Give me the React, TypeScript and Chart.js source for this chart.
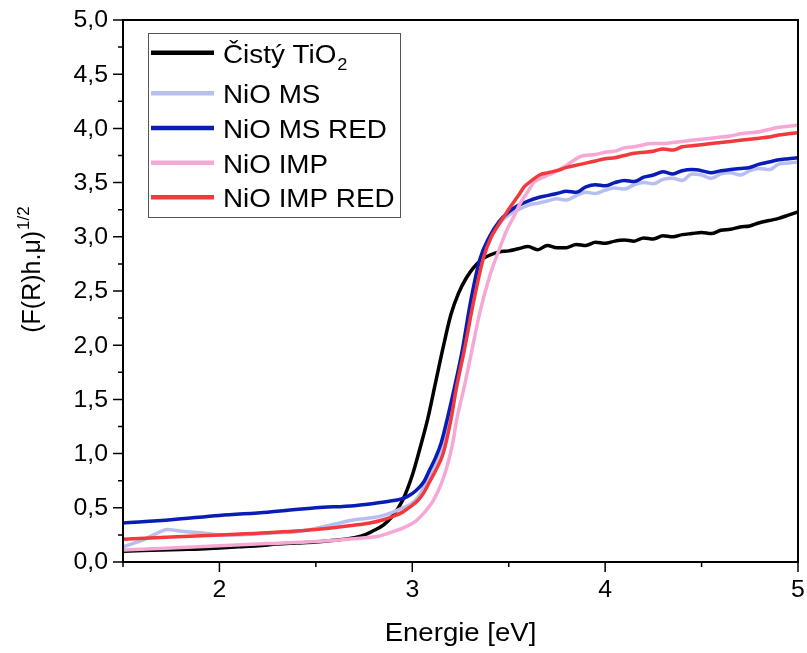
import React, { useEffect, useRef } from "react";
import { Chart, registerables } from "chart.js";

Chart.register(...registerables);

const FONT = '"Liberation Sans", Arial, sans-serif';

// ---- data ----
const blackE = [1.5, 1.6, 1.7, 1.8, 1.9, 2.0, 2.1, 2.2, 2.3, 2.4, 2.5, 2.6, 2.7, 2.76, 2.8, 2.85, 2.9, 2.95, 3.0, 3.04, 3.08, 3.12, 3.16, 3.2, 3.24, 3.28, 3.32, 3.36, 3.4, 3.45, 3.5, 3.55, 3.6, 3.65, 3.7, 3.75, 3.8, 3.85, 3.9, 3.95, 4.0, 4.05, 4.1, 4.15, 4.2, 4.25, 4.3, 4.35, 4.4, 4.45, 4.5, 4.55, 4.6, 4.65, 4.7, 4.75, 4.8, 4.85, 4.9, 4.95, 5.0];
const blackV = [0.10, 0.105, 0.11, 0.115, 0.12, 0.13, 0.14, 0.15, 0.165, 0.175, 0.185, 0.20, 0.225, 0.255, 0.29, 0.34, 0.43, 0.57, 0.80, 1.05, 1.32, 1.65, 1.98, 2.28, 2.48, 2.62, 2.72, 2.79, 2.83, 2.86, 2.87, 2.89, 2.91, 2.88, 2.92, 2.90, 2.90, 2.93, 2.92, 2.95, 2.94, 2.96, 2.97, 2.96, 2.99, 2.98, 3.01, 3.00, 3.02, 3.03, 3.04, 3.03, 3.06, 3.07, 3.09, 3.10, 3.13, 3.15, 3.17, 3.20, 3.23];

const msE = [1.5, 1.55, 1.6, 1.67, 1.73, 1.78, 1.83, 1.9, 1.95, 2.0, 2.1, 2.2, 2.3, 2.4, 2.5, 2.6, 2.7, 2.8, 2.85, 2.9, 2.95, 2.99, 3.03, 3.06, 3.1, 3.14, 3.19, 3.23, 3.27, 3.31, 3.35, 3.4, 3.45, 3.5, 3.55, 3.6, 3.65, 3.7, 3.75, 3.8, 3.85, 3.9, 3.95, 4.0, 4.05, 4.1, 4.15, 4.2, 4.25, 4.3, 4.35, 4.4, 4.45, 4.5, 4.55, 4.6, 4.65, 4.7, 4.75, 4.8, 4.85, 4.9, 4.95, 5.0];
const msV = [0.14, 0.17, 0.20, 0.26, 0.30, 0.29, 0.28, 0.27, 0.26, 0.25, 0.25, 0.26, 0.27, 0.28, 0.31, 0.35, 0.39, 0.41, 0.43, 0.46, 0.50, 0.53, 0.60, 0.69, 0.84, 1.0, 1.31, 1.62, 1.96, 2.36, 2.75, 2.98, 3.12, 3.20, 3.25, 3.29, 3.31, 3.33, 3.35, 3.34, 3.38, 3.41, 3.40, 3.43, 3.45, 3.44, 3.48, 3.50, 3.49, 3.53, 3.54, 3.52, 3.58, 3.57, 3.54, 3.58, 3.59, 3.57, 3.61, 3.63, 3.62, 3.67, 3.68, 3.69];

const msRedE = [1.5, 1.75, 2.0, 2.25, 2.5, 2.7, 2.8, 2.88, 2.94, 2.98, 3.02, 3.06, 3.09, 3.12, 3.15, 3.18, 3.22, 3.26, 3.3, 3.35, 3.4, 3.45, 3.5, 3.55, 3.6, 3.65, 3.7, 3.75, 3.8, 3.85, 3.9, 3.95, 4.0, 4.05, 4.1, 4.15, 4.2, 4.25, 4.3, 4.35, 4.4, 4.45, 4.5, 4.55, 4.6, 4.65, 4.7, 4.75, 4.8, 4.85, 4.9, 4.95, 5.0];
const msRedV = [0.36, 0.39, 0.43, 0.46, 0.50, 0.52, 0.54, 0.56, 0.58, 0.61, 0.66, 0.74, 0.85, 0.96, 1.10, 1.31, 1.62, 1.96, 2.38, 2.79, 3.0, 3.14, 3.23, 3.29, 3.33, 3.36, 3.38, 3.40, 3.42, 3.41, 3.46, 3.48, 3.47, 3.50, 3.52, 3.51, 3.55, 3.57, 3.60, 3.58, 3.61, 3.62, 3.61, 3.59, 3.61, 3.62, 3.63, 3.64, 3.67, 3.69, 3.71, 3.72, 3.73];

const impE = [1.5, 1.75, 2.0, 2.25, 2.5, 2.73, 2.83, 2.9, 2.96, 3.02, 3.06, 3.11, 3.15, 3.18, 3.21, 3.23, 3.27, 3.31, 3.35, 3.4, 3.45, 3.49, 3.53, 3.56, 3.6, 3.63, 3.68, 3.73, 3.8, 3.87, 3.95, 4.0, 4.05, 4.1, 4.15, 4.2, 4.25, 4.3, 4.35, 4.4, 4.45, 4.5, 4.55, 4.6, 4.65, 4.7, 4.75, 4.8, 4.85, 4.9, 4.95, 5.0];
const impV = [0.11, 0.13, 0.15, 0.17, 0.19, 0.22, 0.24, 0.28, 0.32, 0.38, 0.45, 0.57, 0.72, 0.88, 1.1, 1.31, 1.62, 1.96, 2.30, 2.63, 2.88, 3.06, 3.20, 3.31, 3.42, 3.50, 3.55, 3.59, 3.66, 3.74, 3.76, 3.78, 3.79, 3.82, 3.83, 3.85, 3.86, 3.86, 3.87, 3.88, 3.89, 3.90, 3.91, 3.92, 3.93, 3.95, 3.96, 3.97, 3.99, 4.01, 4.02, 4.03];

const impRedE = [1.5, 1.75, 2.0, 2.25, 2.5, 2.65, 2.78, 2.85, 2.9, 2.95, 2.99, 3.03, 3.06, 3.09, 3.12, 3.16, 3.2, 3.23, 3.27, 3.32, 3.37, 3.41, 3.44, 3.48, 3.51, 3.55, 3.58, 3.62, 3.66, 3.7, 3.75, 3.8, 3.85, 3.9, 3.95, 4.0, 4.05, 4.1, 4.15, 4.2, 4.25, 4.3, 4.35, 4.4, 4.45, 4.5, 4.55, 4.6, 4.65, 4.7, 4.75, 4.8, 4.85, 4.9, 4.95, 5.0];
const impRedV = [0.21, 0.23, 0.25, 0.27, 0.30, 0.33, 0.36, 0.39, 0.42, 0.46, 0.51, 0.57, 0.64, 0.74, 0.84, 1.0, 1.31, 1.62, 1.96, 2.42, 2.81, 3.0, 3.09, 3.20, 3.28, 3.38, 3.46, 3.52, 3.57, 3.59, 3.61, 3.64, 3.66, 3.68, 3.70, 3.72, 3.73, 3.75, 3.77, 3.78, 3.79, 3.81, 3.80, 3.83, 3.84, 3.85, 3.86, 3.87, 3.88, 3.89, 3.90, 3.91, 3.92, 3.94, 3.95, 3.96];

const seriesLabels = ["Čistý TiO", "NiO MS", "NiO MS RED", "NiO IMP", "NiO IMP RED"];
const seriesColors = ["#000000", "#b7bff1", "#0a1cb6", "#f5a8d3", "#f23a3c"];
const seriesWidths = [3.5, 3.5, 3.5, 3.5, 3.5];

const xTitle = "Energie [eV]";
const yTitleMain = "(F(R)h.μ)";
const yTitleSup = "1/2";

const xMin = 1.5, xMax = 5, xStep = 0.5;
const yMin = 0, yMax = 5, yStep = 0.5;

function pts(xs: number[], ys: number[]) {
  return xs.map((x, i) => ({ x, y: ys[i] }));
}

const isInt = (v: number) => Math.abs(v - Math.round(v)) < 1e-6;

// draw text horizontally stretched by sx, anchored at (x, y)
function stretchText(ctx: CanvasRenderingContext2D, text: string, x: number, y: number, sx: number) {
  ctx.save();
  ctx.translate(x, y);
  ctx.scale(sx, 1);
  ctx.fillText(text, 0, 0);
  ctx.restore();
}

const decorPlugin = {
  id: "decor",
  afterDraw(chart: any) {
    const { ctx, chartArea: a, scales } = chart;
    const x = scales.x, y = scales.y;
    ctx.save();
    ctx.strokeStyle = "#000";
    ctx.lineWidth = 1.5;
    ctx.beginPath();
    for (const t of x.ticks) {
      const px = x.getPixelForValue(t.value);
      ctx.moveTo(px, a.bottom);
      ctx.lineTo(px, a.bottom + (isInt(t.value) ? 10 : 5));
    }
    for (const t of y.ticks) {
      const py = y.getPixelForValue(t.value);
      ctx.moveTo(a.left, py);
      ctx.lineTo(a.left - 10, py);
      if (t.value + yStep / 2 < yMax) {
        const pm = y.getPixelForValue(t.value + yStep / 2);
        ctx.moveTo(a.left, pm);
        ctx.lineTo(a.left - 5, pm);
      }
    }
    ctx.stroke();
    ctx.lineWidth = 2;
    ctx.strokeRect(a.left, a.top, a.right - a.left, a.bottom - a.top);

    // tick labels
    ctx.fillStyle = "#000";
    ctx.font = `23px ${FONT}`;
    ctx.textAlign = "center";
    ctx.textBaseline = "middle";
    for (const t of x.ticks) {
      if (!isInt(t.value)) continue;
      stretchText(ctx, String(Math.round(t.value)), x.getPixelForValue(t.value), a.bottom + 29, 1.08);
    }
    ctx.textAlign = "right";
    for (const t of y.ticks) {
      stretchText(ctx, Number(t.value).toFixed(1).replace(".", ","), a.left - 15, y.getPixelForValue(t.value) + 1, 1.08);
    }

    // x title
    ctx.font = `26px ${FONT}`;
    ctx.textAlign = "center";
    ctx.textBaseline = "alphabetic";
    stretchText(ctx, xTitle, (a.left + a.right) / 2, 641, 1.06);

    // y title
    ctx.save();
    ctx.translate(40, 270);
    ctx.rotate(-Math.PI / 2);
    ctx.font = `25px ${FONT}`;
    const wMain = ctx.measureText(yTitleMain).width;
    ctx.font = `17px ${FONT}`;
    const wSup = ctx.measureText(yTitleSup).width;
    const start = -(wMain + wSup) / 2;
    ctx.textAlign = "left";
    ctx.font = `25px ${FONT}`;
    ctx.fillText(yTitleMain, start, 0);
    ctx.font = `17px ${FONT}`;
    ctx.fillText(yTitleSup, start + wMain + 1, -11);
    ctx.restore();

    // legend
    const bx = 148, by = 33, bw = 252, bh = 184;
    ctx.fillStyle = "#fff";
    ctx.fillRect(bx, by, bw, bh);
    ctx.strokeStyle = "#555";
    ctx.lineWidth = 1;
    ctx.strokeRect(bx + 0.5, by + 0.5, bw, bh);
    const rows = [52.7, 93.3, 128, 162.7, 197.3];
    ctx.textAlign = "left";
    const lsx = 1.07;
    for (let i = 0; i < seriesLabels.length; i++) {
      const ry = rows[i];
      ctx.strokeStyle = seriesColors[i];
      ctx.lineWidth = 4.5;
      ctx.beginPath();
      ctx.moveTo(151, ry);
      ctx.lineTo(214, ry);
      ctx.stroke();
      ctx.fillStyle = "#000";
      ctx.font = `26px ${FONT}`;
      stretchText(ctx, seriesLabels[i], 223, ry + 10, lsx);
      if (i === 0) {
        const w = ctx.measureText(seriesLabels[i]).width * lsx;
        ctx.font = `17px ${FONT}`;
        stretchText(ctx, "2", 223 + w + 1, ry + 17, lsx);
      }
    }
    ctx.restore();
  },
};

export default function App() {
  const ref = useRef<HTMLCanvasElement | null>(null);
  useEffect(() => {
    if (!ref.current) return;
    const datasets = [
      pts(blackE, blackV),
      pts(msE, msV),
      pts(msRedE, msRedV),
      pts(impE, impV),
      pts(impRedE, impRedV),
    ].map((data, i) => ({
      label: seriesLabels[i],
      data,
      borderColor: seriesColors[i],
      backgroundColor: seriesColors[i],
      borderWidth: seriesWidths[i],
      pointRadius: 0,
      cubicInterpolationMode: "monotone" as const,
      fill: false,
      order: 5 - i,
    }));
    const chart = new Chart(ref.current, {
      type: "line",
      data: { datasets },
      plugins: [decorPlugin],
      options: {
        animation: false,
        responsive: true,
        maintainAspectRatio: false,
        layout: { padding: { top: 20, right: 9, left: 0, bottom: 0 } },
        plugins: { legend: { display: false }, tooltip: { enabled: false } },
        scales: {
          x: {
            type: "linear",
            min: xMin,
            max: xMax,
            grid: { display: false, drawTicks: false },
            border: { display: false },
            ticks: { stepSize: xStep, autoSkip: false, display: false },
            afterFit: (s: any) => { s.height = 91; },
          },
          y: {
            type: "linear",
            min: yMin,
            max: yMax,
            grid: { display: false, drawTicks: false },
            border: { display: false },
            ticks: { stepSize: yStep, autoSkip: false, display: false },
            afterFit: (s: any) => { s.width = 123; },
          },
        },
      },
    });
    return () => chart.destroy();
  }, []);
  return (
    <div style={{ position: "fixed", left: 0, top: 0, width: 807, height: 653, background: "#fff" }}>
      <canvas ref={ref} />
    </div>
  );
}
